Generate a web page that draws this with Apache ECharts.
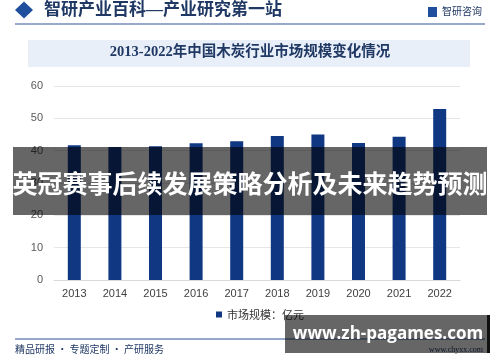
<!DOCTYPE html>
<html>
<head>
<meta charset="utf-8">
<script src="https://cdn.jsdelivr.net/npm/echarts@6/dist/echarts.min.js"></script>
<style>
  html, body { margin: 0; padding: 0; background: #fff; }
  #main { width: 500px; height: 362px; }
</style>
</head>
<body>
<div id="main"></div>
<script>
var years = ["2013", "2014", "2015", "2016", "2017", "2018", "2019", "2020", "2021", "2022"];
var marketSize = [41.7, 41.1, 41.4, 42.3, 42.9, 44.5, 45.0, 42.4, 44.3, 52.9];
var seriesName = "市场规模：亿元";
var chartTitle = "2013-2022年中国木炭行业市场规模变化情况";
var headerText = "智研产业百科—产业研究第一站";
var overlayText = "英冠赛事后续发展策略分析及未来趋势预测";
var footerUrl = "www.zh-pagames.com";

var cjk = "'Noto Sans CJK SC', sans-serif";
var serif = "'Liberation Serif', 'Noto Sans CJK SC', serif";

var chart = echarts.init(document.getElementById("main"));

var option = {
  animation: false,
  backgroundColor: "#fff",
  grid: { left: 54, right: 40, top: 86, bottom: 82 },
  legend: {
    data: [seriesName],
    left: 211,
    top: 304,
    icon: "rect",
    itemWidth: 6,
    itemHeight: 6,
    itemGap: 4,
    textStyle: { fontFamily: cjk, fontSize: 11, color: "#333" }
  },
  xAxis: {
    type: "category",
    data: years,
    axisTick: { show: false },
    axisLine: { lineStyle: { color: "#d9d9d9" } },
    axisLabel: { color: "#404040", fontSize: 11, fontFamily: "Arial, 'Liberation Sans', sans-serif", margin: 8 }
  },
  yAxis: {
    type: "value",
    min: 0,
    max: 60,
    interval: 10,
    axisLine: { show: false },
    axisTick: { show: false },
    splitLine: { lineStyle: { color: "#e6e6e6" } },
    axisLabel: { color: "#595959", fontSize: 11, fontFamily: "Arial, 'Liberation Sans', sans-serif", margin: 11 }
  },
  series: [
    {
      name: seriesName,
      type: "bar",
      data: marketSize,
      barWidth: 13,
      itemStyle: { color: "#0f3782" }
    }
  ],
  graphic: [
    // 顶部标题栏
    {
      type: "polygon", z: 10,
      shape: { points: [[15, 10], [24, 1.5], [33, 10], [24, 18.5]] },
      style: { fill: "#1f4e9c" }
    },
    {
      type: "text", left: 44, top: 2, z: 10,
      style: { text: headerText, font: "bold 17px " + serif, fill: "#1f3864" }
    },
    {
      type: "rect", left: 428, top: 7, z: 10,
      shape: { width: 9, height: 10 },
      style: { fill: "#1f4e9c" }
    },
    {
      type: "text", left: 442, top: 6, z: 10,
      style: { text: "智研咨询", font: "10px " + cjk, fill: "#1f3864" }
    },
    {
      type: "line", z: 10,
      shape: { x1: 15, y1: 24, x2: 485, y2: 24 },
      style: { stroke: "#2f5597", lineWidth: 1 }
    },
    // 图表标题
    {
      type: "rect", left: 28, top: 40, z: 1,
      shape: { width: 442, height: 27 },
      style: { fill: "#e9eff8" }
    },
    {
      type: "text", left: "center", top: 45, z: 10,
      style: { text: chartTitle, font: "bold 14.5px " + serif, fill: "#1f3864" }
    },
    // 遮罩条
    {
      type: "rect", left: 13, top: 147, z: 100,
      shape: { width: 474, height: 68 },
      style: { fill: "rgba(0,0,0,0.6)" }
    },
    {
      type: "text", left: "center", top: 171, z: 101,
      style: { text: overlayText, font: "bold 25px " + cjk, fill: "#fff" }
    },
    // 底部
    {
      type: "line", z: 10,
      shape: { x1: 15, y1: 339, x2: 485, y2: 339 },
      style: { stroke: "#2f5597", lineWidth: 1 }
    },
    {
      type: "text", left: 15, top: 344, z: 10,
      style: { text: "精品研报 · 专题定制 · 产研服务", font: "10px " + cjk, fill: "#1f3864" }
    },
    {
      type: "text", right: 17, top: 346, z: 10,
      style: { text: "www.chyxx.com", font: "8px " + serif, fill: "#1f3864" }
    },
    {
      type: "rect", left: 285, top: 315, z: 100,
      shape: { width: 203, height: 38 },
      style: { fill: "rgba(0,0,0,0.6)" }
    },
    {
      type: "rect", left: 487, top: 315, z: 100,
      shape: { width: 3, height: 38 },
      style: { fill: "#111" }
    },
    {
      type: "text", z: 101,
      x: 388, y: 334,
      style: {
        text: footerUrl, font: "bold 17px 'Open Sans', 'DejaVu Sans', sans-serif",
        fill: "#fff", align: "center", verticalAlign: "middle"
      }
    }
  ]
};

chart.setOption(option);
</script>
</body>
</html>
